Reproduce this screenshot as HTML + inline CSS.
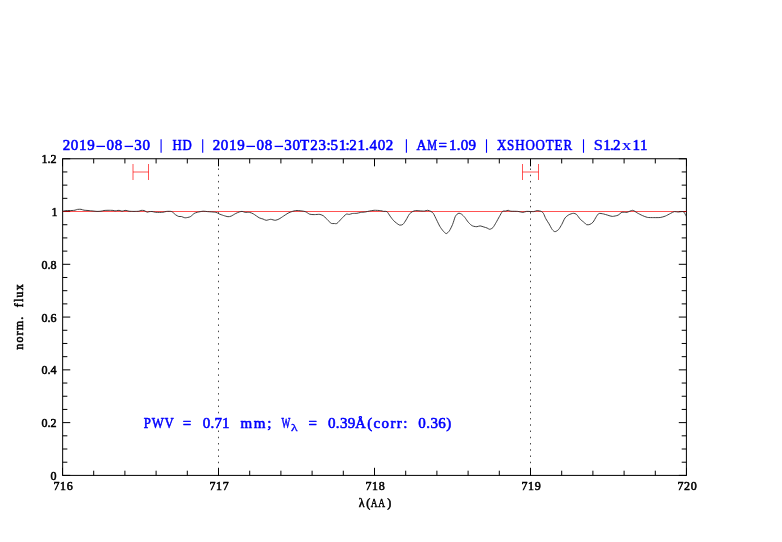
<!DOCTYPE html>
<html><head><meta charset="utf-8"><title>plot</title>
<style>html,body{margin:0;padding:0;background:#fff;overflow:hidden;}svg{display:block;position:absolute;left:0;top:0;will-change:transform;}text{font-family:"Liberation Serif",serif;font-weight:normal;paint-order:stroke;stroke-linejoin:round;}.t{font-size:15px;fill:#0000ff;stroke:#0000ff;stroke-width:0.58px;}.a{font-size:12px;fill:#000;stroke:#000;stroke-width:0.55px;}</style></head><body>
<svg width="782" height="542" viewBox="0 0 782 542">
<rect width="782" height="542" fill="#fff"/>
<line x1="218.50" y1="475.70" x2="218.50" y2="158.75" stroke="#4a4a4a" stroke-width="1" stroke-dasharray="1.5 4.74"/>
<line x1="530.50" y1="475.70" x2="530.50" y2="158.75" stroke="#4a4a4a" stroke-width="1" stroke-dasharray="1.5 4.74"/>
<path d="M62.50 475.40v-7.60M62.50 158.75v7.60M93.70 475.40v-4.70M93.70 158.75v4.70M124.90 475.40v-4.70M124.90 158.75v4.70M156.10 475.40v-4.70M156.10 158.75v4.70M187.30 475.40v-4.70M187.30 158.75v4.70M218.50 475.40v-7.60M218.50 158.75v7.60M249.70 475.40v-4.70M249.70 158.75v4.70M280.90 475.40v-4.70M280.90 158.75v4.70M312.10 475.40v-4.70M312.10 158.75v4.70M343.30 475.40v-4.70M343.30 158.75v4.70M374.50 475.40v-7.60M374.50 158.75v7.60M405.70 475.40v-4.70M405.70 158.75v4.70M436.90 475.40v-4.70M436.90 158.75v4.70M468.10 475.40v-4.70M468.10 158.75v4.70M499.30 475.40v-4.70M499.30 158.75v4.70M530.50 475.40v-7.60M530.50 158.75v7.60M561.70 475.40v-4.70M561.70 158.75v4.70M592.90 475.40v-4.70M592.90 158.75v4.70M624.10 475.40v-4.70M624.10 158.75v4.70M655.30 475.40v-4.70M655.30 158.75v4.70M686.50 475.40v-7.60M686.50 158.75v7.60M62.65 475.40h7.60M686.40 475.40h-7.60M62.65 462.21h4.70M686.40 462.21h-4.70M62.65 449.01h4.70M686.40 449.01h-4.70M62.65 435.82h4.70M686.40 435.82h-4.70M62.65 422.62h7.60M686.40 422.62h-7.60M62.65 409.43h4.70M686.40 409.43h-4.70M62.65 396.24h4.70M686.40 396.24h-4.70M62.65 383.04h4.70M686.40 383.04h-4.70M62.65 369.85h7.60M686.40 369.85h-7.60M62.65 356.66h4.70M686.40 356.66h-4.70M62.65 343.46h4.70M686.40 343.46h-4.70M62.65 330.27h4.70M686.40 330.27h-4.70M62.65 317.07h7.60M686.40 317.07h-7.60M62.65 303.88h4.70M686.40 303.88h-4.70M62.65 290.69h4.70M686.40 290.69h-4.70M62.65 277.49h4.70M686.40 277.49h-4.70M62.65 264.30h7.60M686.40 264.30h-7.60M62.65 251.11h4.70M686.40 251.11h-4.70M62.65 237.91h4.70M686.40 237.91h-4.70M62.65 224.72h4.70M686.40 224.72h-4.70M62.65 211.52h7.60M686.40 211.52h-7.60M62.65 198.33h4.70M686.40 198.33h-4.70M62.65 185.14h4.70M686.40 185.14h-4.70M62.65 171.94h4.70M686.40 171.94h-4.70M62.65 158.75h7.60M686.40 158.75h-7.60" stroke="#000" stroke-width="1" fill="none"/>
<rect x="62.65" y="158.75" width="623.75" height="316.65" fill="none" stroke="#000" stroke-width="1"/>
<line x1="62.65" y1="211.5" x2="686.40" y2="211.5" stroke="#ff0000" stroke-opacity="0.68" stroke-width="1"/>
<path d="M62.80 211.20C63.18 211.13 64.90 210.68 66.00 210.60C67.10 210.52 70.92 210.55 72.00 210.50C73.08 210.45 74.34 210.33 75.00 210.20C75.66 210.07 76.78 209.51 77.50 209.40C78.22 209.29 80.22 209.20 81.00 209.30C81.78 209.40 83.16 210.06 84.00 210.20C84.84 210.34 86.92 210.40 88.00 210.50C89.08 210.60 91.92 210.89 93.00 211.00C94.08 211.11 96.04 211.38 97.00 211.40C97.96 211.42 100.16 211.31 101.00 211.20C101.84 211.09 103.16 210.61 104.00 210.50C104.84 210.39 106.92 210.31 108.00 210.30C109.08 210.29 112.16 210.33 113.00 210.40C113.84 210.47 114.40 210.90 115.00 210.90C115.60 210.90 117.40 210.45 118.00 210.40C118.60 210.35 119.52 210.40 120.00 210.50C120.48 210.60 121.40 211.21 122.00 211.20C122.60 211.19 124.40 210.47 125.00 210.40C125.60 210.33 126.52 210.50 127.00 210.60C127.48 210.70 128.16 211.10 129.00 211.20C129.84 211.30 132.80 211.40 134.00 211.40C135.20 211.40 138.16 211.32 139.00 211.20C139.84 211.08 140.40 210.48 141.00 210.40C141.60 210.32 143.40 210.36 144.00 210.50C144.60 210.64 145.58 211.40 146.00 211.60C146.42 211.80 147.14 212.19 147.50 212.20C147.86 212.21 148.46 211.78 149.00 211.70C149.54 211.62 151.18 211.43 152.00 211.50C152.82 211.57 154.50 212.20 155.80 212.30C157.10 212.40 161.50 212.41 162.80 212.30C164.10 212.19 165.53 211.48 166.60 211.40C167.67 211.32 170.62 211.19 171.70 211.60C172.78 212.01 174.75 214.21 175.60 214.80C176.45 215.39 178.12 216.30 178.80 216.50C179.48 216.70 180.53 216.34 181.30 216.50C182.07 216.66 184.12 217.78 185.20 217.80C186.28 217.82 189.23 217.22 190.30 216.70C191.37 216.18 193.26 214.03 194.10 213.50C194.94 212.97 196.22 212.58 197.30 212.30C198.38 212.02 201.88 211.28 203.10 211.20C204.32 211.12 205.96 211.47 207.50 211.60C209.04 211.73 214.51 212.02 215.90 212.30C217.29 212.58 218.19 213.52 219.10 213.90C220.01 214.28 222.43 215.16 223.50 215.50C224.57 215.84 227.08 216.63 228.00 216.70C228.92 216.77 230.28 216.48 231.20 216.10C232.12 215.72 234.70 214.00 235.70 213.50C236.70 213.00 238.73 212.15 239.50 211.90C240.27 211.65 241.43 211.35 242.10 211.40C242.77 211.45 244.20 212.18 245.10 212.30C246.00 212.42 248.60 212.21 249.60 212.40C250.60 212.59 252.25 213.25 253.40 213.90C254.55 214.55 258.05 217.19 259.20 217.80C260.35 218.41 262.16 218.70 263.00 219.00C263.84 219.30 265.28 220.26 266.20 220.30C267.12 220.34 269.62 219.30 270.70 219.30C271.78 219.30 274.20 220.34 275.20 220.30C276.20 220.26 278.00 219.50 279.00 219.00C280.00 218.50 282.42 216.80 283.50 216.10C284.58 215.40 286.93 213.76 288.00 213.20C289.07 212.64 291.49 211.71 292.40 211.40C293.31 211.09 294.83 210.70 295.60 210.60C296.37 210.50 297.65 210.48 298.80 210.60C299.95 210.72 303.89 211.17 305.20 211.60C306.51 212.03 308.62 213.84 309.70 214.20C310.78 214.56 312.98 214.58 314.20 214.60C315.42 214.62 318.75 214.22 319.90 214.40C321.05 214.58 322.80 215.36 323.80 216.10C324.80 216.84 327.29 219.72 328.20 220.60C329.11 221.48 330.68 223.05 331.40 223.40C332.12 223.75 333.53 223.50 334.20 223.50C334.87 223.50 336.12 223.98 337.00 223.40C337.88 222.82 340.40 219.80 341.50 218.70C342.60 217.60 345.28 214.72 346.20 214.20C347.12 213.68 348.46 214.48 349.20 214.40C349.94 214.32 351.48 213.63 352.40 213.50C353.32 213.37 355.90 213.43 356.90 213.30C357.90 213.17 359.70 212.56 360.70 212.40C361.70 212.24 364.13 212.17 365.20 212.00C366.27 211.83 368.53 211.20 369.60 211.00C370.67 210.80 372.79 210.35 374.10 210.30C375.41 210.25 379.35 210.47 380.50 210.60C381.65 210.73 382.93 211.28 383.70 211.40C384.47 211.52 386.13 211.04 386.90 211.60C387.67 212.16 389.33 215.06 390.10 216.10C390.87 217.14 392.53 219.46 393.30 220.30C394.07 221.14 395.73 222.52 396.50 223.10C397.27 223.68 398.93 224.94 399.70 225.10C400.47 225.26 402.13 225.02 402.90 224.40C403.67 223.78 405.33 221.12 406.10 219.90C406.87 218.68 408.53 215.20 409.30 214.20C410.07 213.20 411.73 212.03 412.50 211.60C413.27 211.17 414.55 210.67 415.70 210.60C416.85 210.53 421.04 210.95 422.10 211.00C423.16 211.05 423.83 211.08 424.50 211.00C425.17 210.92 426.93 210.25 427.70 210.30C428.47 210.35 430.22 211.02 430.90 211.40C431.58 211.78 432.72 212.48 433.40 213.50C434.08 214.52 435.83 218.36 436.60 219.90C437.37 221.44 439.03 224.99 439.80 226.30C440.57 227.61 442.23 229.92 443.00 230.80C443.77 231.68 445.43 233.60 446.20 233.60C446.97 233.60 448.63 231.90 449.40 230.80C450.17 229.70 451.90 226.09 452.60 224.40C453.30 222.71 454.66 217.92 455.20 216.70C455.74 215.48 456.64 214.62 457.10 214.20C457.56 213.78 458.46 213.20 459.00 213.20C459.54 213.20 460.90 213.70 461.60 214.20C462.30 214.70 464.03 216.48 464.80 217.40C465.57 218.32 467.23 220.98 468.00 221.90C468.77 222.82 470.52 224.57 471.20 225.10C471.88 225.63 473.02 226.11 473.70 226.30C474.38 226.49 476.13 226.75 476.90 226.70C477.67 226.65 479.26 225.86 480.10 225.90C480.94 225.94 483.06 226.75 483.90 227.00C484.74 227.25 486.40 227.72 487.10 228.00C487.80 228.28 489.00 229.35 489.70 229.30C490.40 229.25 492.13 228.42 492.90 227.60C493.67 226.78 495.33 223.81 496.10 222.50C496.87 221.19 498.53 218.03 499.30 216.70C500.07 215.37 501.73 212.08 502.50 211.40C503.27 210.72 505.02 211.13 505.70 211.00C506.38 210.87 507.59 210.28 508.20 210.30C508.81 210.32 509.66 211.07 510.80 211.20C511.94 211.33 516.26 211.26 517.70 211.40C519.14 211.54 521.73 212.40 522.80 212.40C523.87 212.40 525.29 211.50 526.60 211.40C527.91 211.30 532.46 211.70 533.70 211.60C534.94 211.50 535.99 210.62 536.90 210.60C537.81 210.58 540.51 211.05 541.30 211.40C542.09 211.75 542.96 212.62 543.50 213.50C544.04 214.38 545.14 217.46 545.80 218.70C546.46 219.94 548.23 222.50 549.00 223.80C549.77 225.10 551.48 228.55 552.20 229.50C552.92 230.45 554.23 231.70 555.00 231.70C555.77 231.70 557.78 230.38 558.60 229.50C559.42 228.62 561.03 225.78 561.80 224.40C562.57 223.02 564.16 219.15 565.00 218.00C565.84 216.85 567.80 215.36 568.80 214.80C569.80 214.24 572.38 213.35 573.30 213.30C574.22 213.25 575.66 213.68 576.50 214.40C577.34 215.12 579.38 218.33 580.30 219.30C581.22 220.27 583.43 221.85 584.20 222.50C584.97 223.15 586.02 224.47 586.70 224.70C587.38 224.93 589.13 224.71 589.90 224.40C590.67 224.09 592.33 223.02 593.10 222.10C593.87 221.18 595.60 217.73 596.30 216.70C597.00 215.67 598.06 213.84 598.90 213.50C599.74 213.16 602.23 213.70 603.30 213.90C604.37 214.10 606.72 214.90 607.80 215.20C608.88 215.50 611.08 216.40 612.30 216.40C613.52 216.40 616.85 215.69 618.00 215.20C619.15 214.71 620.82 212.65 621.90 212.30C622.98 211.95 625.70 212.54 627.00 212.30C628.30 212.06 631.48 210.23 632.70 210.30C633.92 210.37 636.05 212.28 637.20 212.90C638.35 213.52 641.08 214.96 642.30 215.50C643.52 216.04 646.02 217.15 647.40 217.40C648.78 217.65 652.26 217.59 653.80 217.60C655.34 217.61 658.82 217.68 660.20 217.50C661.58 217.32 664.08 216.58 665.30 216.10C666.52 215.62 669.32 214.04 670.40 213.50C671.48 212.96 673.38 211.78 674.30 211.60C675.22 211.42 677.03 212.00 678.10 212.00C679.17 212.00 682.35 211.34 683.20 211.60C684.05 211.86 684.83 213.61 685.20 214.20C685.57 214.79 686.17 216.22 686.30 216.50" fill="none" stroke="#2a2a2a" stroke-width="0.9" stroke-linejoin="round"/>
<path d="M133.00 164v16M148.50 164v16M133.00 172H148.50" stroke="#ff0000" stroke-width="0.67" fill="none"/>
<path d="M522.50 164v16M538.50 164v16M522.50 172H538.50" stroke="#ff0000" stroke-width="0.67" fill="none"/>
<g>
<text class="t" x="172.4" y="150.3" textLength="20.2" lengthAdjust="spacingAndGlyphs" letter-spacing="1">HD</text>
<text class="t" x="62.7" y="150.3" letter-spacing="0.65">2019</text>
<text class="t" x="106.6" y="150.3" letter-spacing="0.65">08</text>
<text class="t" x="134.3" y="150.3" letter-spacing="0.65">30</text>
<line x1="96.4" y1="146.4" x2="105.0" y2="146.4" stroke="#0000ff" stroke-width="1.3"/>
<line x1="124.6" y1="146.4" x2="133.1" y2="146.4" stroke="#0000ff" stroke-width="1.3"/>
<text class="t" x="212.7" y="150.3" letter-spacing="0.65">2019</text>
<text class="t" x="256.6" y="150.3" letter-spacing="0.65">08</text>
<text class="t" x="284.3" y="150.3" letter-spacing="0.65">30</text>
<line x1="246.4" y1="146.4" x2="255.0" y2="146.4" stroke="#0000ff" stroke-width="1.3"/>
<line x1="274.6" y1="146.4" x2="283.1" y2="146.4" stroke="#0000ff" stroke-width="1.3"/>
<text class="t" x="299.9" y="150.3">T</text>
<text class="t" x="310.3" y="150.3" letter-spacing="0.65">23</text>
<text class="t" x="326.5" y="150.3">:</text>
<text class="t" x="330.5" y="150.3" letter-spacing="0.65">51</text>
<text class="t" x="345.4" y="150.3">:</text>
<text class="t" x="349.3" y="150.3" letter-spacing="0.65">21</text>
<text class="t" x="365.3" y="150.3">.</text>
<text class="t" x="369.5" y="150.3" letter-spacing="0.65">402</text>
<text class="t" x="416.4" y="150.3" textLength="10.0" lengthAdjust="spacingAndGlyphs">A</text>
<text class="t" x="427.3" y="150.3" textLength="9.8" lengthAdjust="spacingAndGlyphs">M</text>
<text class="t" x="438.6" y="150.3" textLength="8.0" lengthAdjust="spacing">=</text>
<text class="t" x="449.0" y="150.3" textLength="27.0" lengthAdjust="spacing">1.09</text>
<text class="t" x="496.9" y="150.3" textLength="76.0" lengthAdjust="spacingAndGlyphs" letter-spacing="1">XSHOOTER</text>
<text class="t" x="593.7" y="150.3" textLength="9.2" lengthAdjust="spacingAndGlyphs" style="stroke-width:0.35px">S</text>
<text class="t" x="603.2" y="150.3">1</text>
<text class="t" x="609.9" y="150.3">.</text>
<text class="t" x="613.0" y="150.3">2</text>
<text class="t" x="621.9" y="150.3" textLength="9.3" lengthAdjust="spacingAndGlyphs" style="stroke-width:0.2px">x</text>
<text class="t" x="632.5" y="150.3" letter-spacing="0.65">11</text>
<line x1="161.1" y1="139.3" x2="161.1" y2="152.8" stroke="#0000ff" stroke-width="1.1"/>
<line x1="202.7" y1="139.3" x2="202.7" y2="152.8" stroke="#0000ff" stroke-width="1.1"/>
<line x1="406.4" y1="139.3" x2="406.4" y2="152.8" stroke="#0000ff" stroke-width="1.1"/>
<line x1="486.5" y1="139.3" x2="486.5" y2="152.8" stroke="#0000ff" stroke-width="1.1"/>
<line x1="583.5" y1="139.3" x2="583.5" y2="152.8" stroke="#0000ff" stroke-width="1.1"/>
<text class="t" x="143.7" y="427.5" textLength="31.0" lengthAdjust="spacingAndGlyphs" letter-spacing="1">PWV</text>
<text class="t" x="182.8" y="427.5" textLength="10.3" lengthAdjust="spacing">=</text>
<text class="t" x="202.8" y="427.5" textLength="26.8" lengthAdjust="spacing">0.71</text>
<text class="t" x="240.4" y="427.5" textLength="30.9" lengthAdjust="spacing">mm;</text>
<text class="t" x="281.4" y="427.5" textLength="8.8" lengthAdjust="spacingAndGlyphs">W</text>
<text class="t" x="291.0" y="430.6" textLength="6.6" lengthAdjust="spacingAndGlyphs" style="font-size:11px;stroke-width:0.35px">λ</text>
<text class="t" x="308.5" y="427.5" textLength="8.7" lengthAdjust="spacing">=</text>
<text class="t" x="328.0" y="427.5" textLength="27.2" lengthAdjust="spacing">0.39</text>
<text class="t" x="355.2" y="427.5" textLength="10.5" lengthAdjust="spacingAndGlyphs">Å</text>
<text class="t" x="367.2" y="427.5" textLength="40.2" lengthAdjust="spacing">(corr:</text>
<text class="t" x="418.3" y="427.5" textLength="33.0" lengthAdjust="spacing">0.36)</text>
<text class="a" x="56.4" y="479.8" text-anchor="end">0</text>
<text class="a" x="56.4" y="427.0" text-anchor="end">0.2</text>
<text class="a" x="56.4" y="374.2" text-anchor="end">0.4</text>
<text class="a" x="56.4" y="321.5" text-anchor="end">0.6</text>
<text class="a" x="56.4" y="268.7" text-anchor="end">0.8</text>
<text class="a" x="57.6" y="215.9" text-anchor="end">1</text>
<text class="a" x="56.4" y="163.2" text-anchor="end">1.2</text>
<text class="a" x="63.1" y="490.0" textLength="19.2" lengthAdjust="spacing" text-anchor="middle">716</text>
<text class="a" x="219.1" y="490.0" textLength="19.2" lengthAdjust="spacing" text-anchor="middle">717</text>
<text class="a" x="375.1" y="490.0" textLength="19.2" lengthAdjust="spacing" text-anchor="middle">718</text>
<text class="a" x="531.1" y="490.0" textLength="19.2" lengthAdjust="spacing" text-anchor="middle">719</text>
<text class="a" x="687.1" y="490.0" textLength="19.2" lengthAdjust="spacing" text-anchor="middle">720</text>
<text class="a" x="358.7" y="506.8">λ</text>
<text class="a" x="366.3" y="506.8">(</text>
<text class="a" x="370.7" y="506.8" textLength="15.2" lengthAdjust="spacingAndGlyphs" letter-spacing="1">AA</text>
<text class="a" x="387.3" y="506.8">)</text>
<text class="a" transform="translate(23.2 317) rotate(-90)" textLength="65.6" lengthAdjust="spacing" text-anchor="middle" xml:space="preserve">norm.  flux</text>
</g>
</svg></body></html>
